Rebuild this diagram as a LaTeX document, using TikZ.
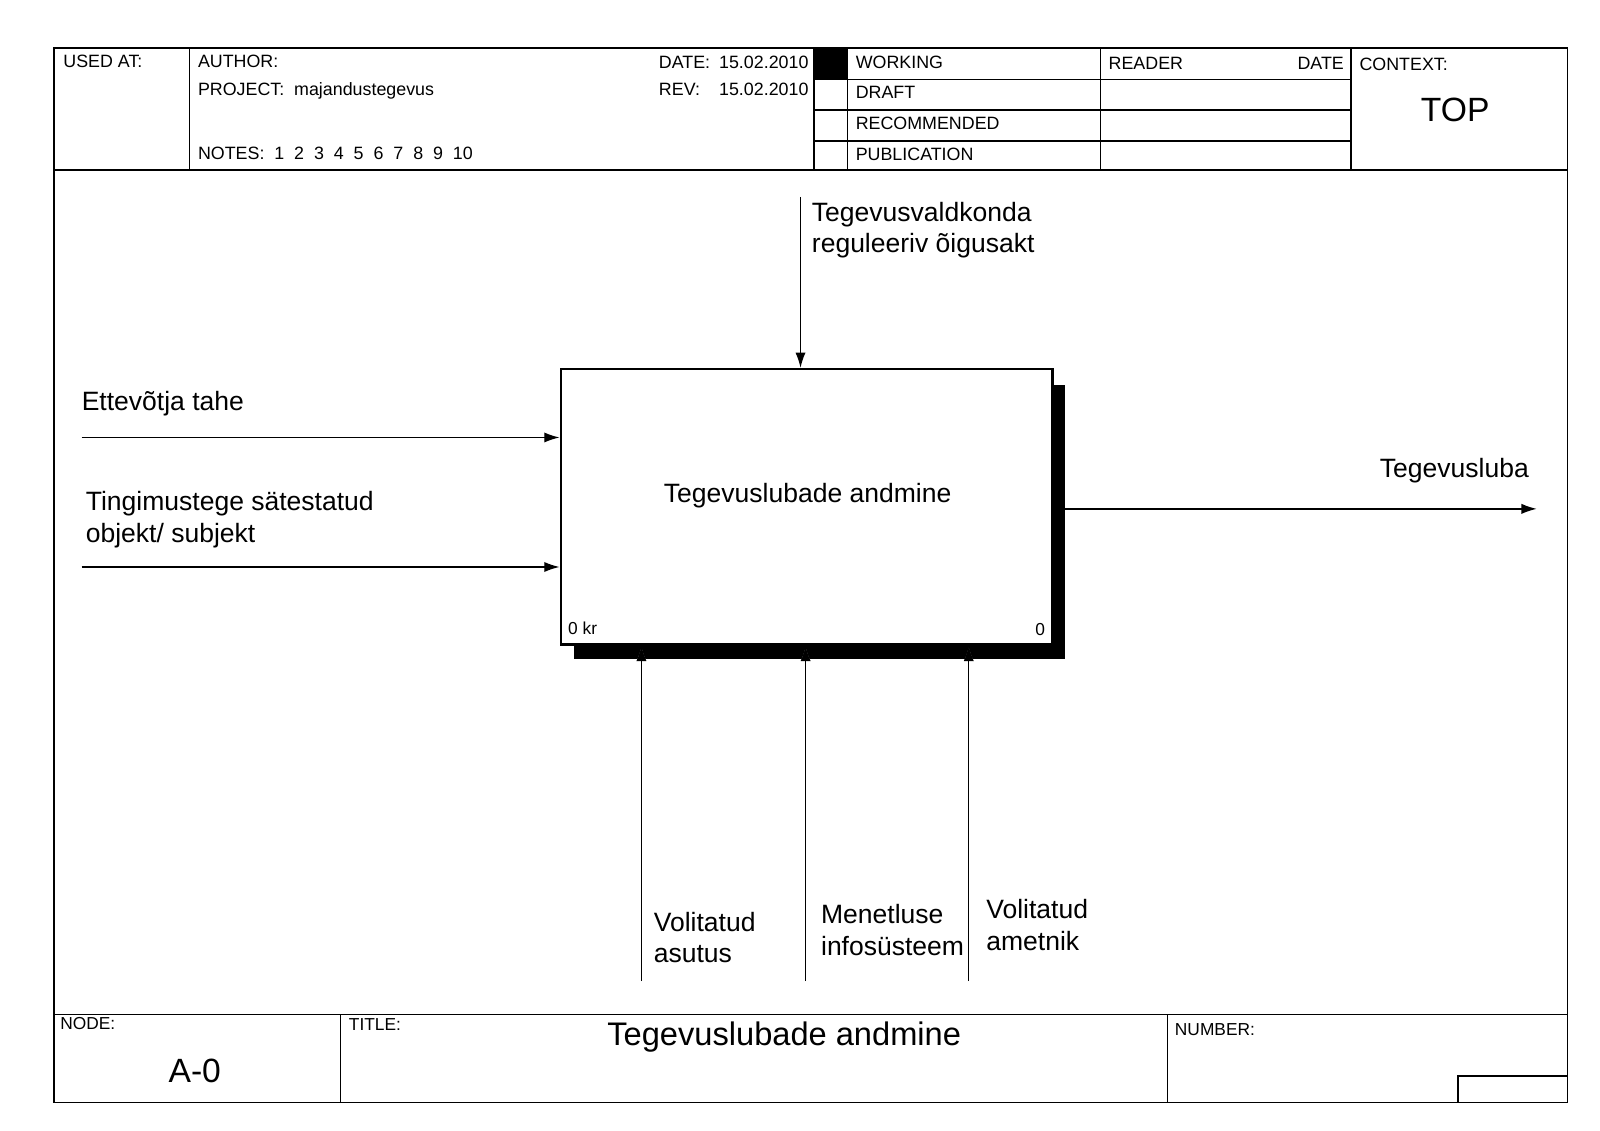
\documentclass[tikz,border=0pt]{standalone}
\usepackage{fontspec}
\setmainfont{Liberation Sans}
\usetikzlibrary{arrows.meta}
\tikzset{
  frame/.style={line width=1.6pt},
  hdr/.style={anchor=base west, font=\fontsize{17.5}{20}\selectfont, inner sep=0pt},
  hdrr/.style={anchor=base east, font=\fontsize{17.5}{20}\selectfont, inner sep=0pt},
  small/.style={anchor=base west, font=\fontsize{17}{19}\selectfont, inner sep=0pt},
  lbl/.style={anchor=base west, font=\fontsize{26}{31}\selectfont, inner sep=0pt, align=left},
  arr/.style={line width=1.3pt, -{Latex[length=15pt,width=10pt]}},
  halo/.style={white, line width=3pt, -{Latex[length=17pt,width=13pt]}},
  boxst/.style={draw, line width=2.6pt, fill=white, minimum width=482pt, minimum height=270pt, inner sep=0pt},
}
\begin{document}
\begin{tikzpicture}[x=1pt,y=-1pt]
\useasboundingbox (0,0) rectangle (1569,1109);
% outer frame
\draw[frame] (53,47) rectangle (1537,1081);
% header
\draw[frame] (53,167) -- (1537,167);
\draw[frame] (186,47) -- (186,167);
\draw[frame] (798,47) -- (798,167);
\draw[frame] (831,47) -- (831,167);
\draw[frame] (1079,47) -- (1079,167);
\draw[frame] (1325,47) -- (1325,167);
\draw[frame] (798,78) -- (1325,78);
\draw[frame] (798,108) -- (1325,108);
\draw[frame] (798,138) -- (1325,138);
\fill (798,47) rectangle (831,78);
\node[hdr] (usedat) at (62,66) {USED AT:};
\node[hdr] (author) at (194,66) {AUTHOR:};
\node[hdr] (project) at (194,94) {PROJECT:\ \ majandustegevus};
\node[hdr] (notes) at (194,156) {NOTES:\ \ 1\ \ 2\ \ 3\ \ 4\ \ 5\ \ 6\ \ 7\ \ 8\ \ 9\ \ 10};
\node[hdr] (date) at (646,67) {DATE:};
\node[hdr] (dateval) at (705,67) {15.02.2010};
\node[hdr] (rev) at (646,94) {REV:};
\node[hdr] (revval) at (705,94) {15.02.2010};
\node[hdr] (working) at (839,67) {WORKING};
\node[hdr] (draft) at (839,97) {DRAFT};
\node[hdr] (recom) at (839,127) {RECOMMENDED};
\node[hdr] (publ) at (839,157) {PUBLICATION};
\node[hdr] (reader) at (1087,68) {READER};
\node[hdrr] (rdate) at (1318,68) {DATE};
\node[hdr] (context) at (1333,69) {CONTEXT:};
\node[font=\fontsize{33}{36}\selectfont, inner sep=0pt] (top) at (1427,108) {TOP};
% footer
\draw[frame] (53,995) -- (1537,995);
\draw[frame] (334,995) -- (334,1081);
\draw[frame] (1145,995) -- (1145,1081);
\draw[frame] (1430,1055) rectangle (1537,1081);
\node[small] (nodel) at (59,1010) {NODE:};
\node[small] (titlel) at (342,1011) {TITLE:};
\node[small] (numl) at (1152,1015) {NUMBER:};
\node[font=\fontsize{33}{36}\selectfont, inner sep=0pt] (a0) at (191,1050) {A-0};
\node[font=\fontsize{32}{36}\selectfont, inner sep=0pt] (title) at (769,1017) {Tegevuslubade andmine};
% shadow and box
\fill (563,378) rectangle (1044,646);
\node[boxst] (box) at (791,497) {};
\node[font=\fontsize{26}{30}\selectfont, inner sep=0pt] (boxtext) at (792,486) {Tegevuslubade andmine};
\node[small] (kr) at (557,622) {0 kr};
\node[anchor=base east, inner sep=0pt, font=\fontsize{17}{19}\selectfont] (zero) at (1025,623) {0};
% control
\coordinate (c1) at (785,193);
\draw[arr] (c1) -- (c1 |- box.north);
\node[lbl] (clab) at (796,248) {Tegevusvaldkonda\\reguleeriv õigusakt};
% inputs
\coordinate (i1) at (80,429);
\coordinate (i2) at (80,556);
\draw[arr] (i1) -- (i1 -| box.west);
\draw[arr] (i2) -- (i2 -| box.west);
\node[lbl] (ilab1) at (80,403) {Ettevõtja tahe};
\node[lbl] (ilab2) at (84,532) {Tingimustege sätestatud\\objekt/ subjekt};
% output
\coordinate (o0) at (1044,499);
\coordinate (o1) at (1507,499);
\draw[arr] (o0) -- (o1);
\node[lbl] (olab) at (1353,468) {Tegevusluba};
% mechanisms
\coordinate (m1) at (629,962);
\coordinate (m2) at (790,962);
\coordinate (m3) at (950,962);
\foreach \m in {m1,m2,m3}{
  \draw[halo] ([yshift=-30pt]\m |- box.south) -- ([yshift=-1pt]\m |- box.south);
  \draw[arr] (\m) -- (\m |- box.south);
}
\node[lbl] (mlab1) at (641,944) {Volitatud\\asutus};
\node[lbl] (mlab2) at (805,937) {Menetluse\\infosüsteem};
\node[lbl] (mlab3) at (967,932) {Volitatud\\ametnik};
\end{tikzpicture}
\end{document}
